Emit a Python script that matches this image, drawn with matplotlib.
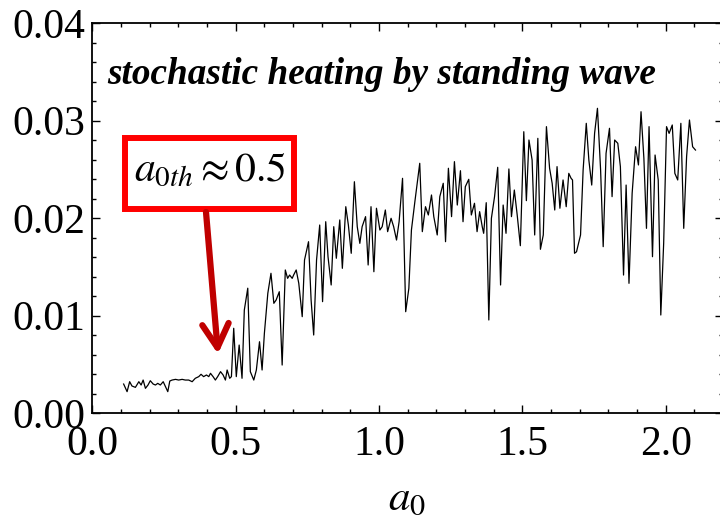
import matplotlib
matplotlib.use('Agg')
import matplotlib.pyplot as plt
from matplotlib.patches import Rectangle, FancyArrowPatch
from matplotlib.ticker import MultipleLocator, FormatStrFormatter

# ---- data ----
a0 = [0.109, 0.121, 0.130, 0.138, 0.150, 0.162, 0.170, 0.177, 0.185, 0.194,
      0.202, 0.212, 0.220, 0.228, 0.237, 0.247, 0.255, 0.263, 0.270, 0.278,
      0.290, 0.301, 0.313, 0.324, 0.336, 0.348, 0.359, 0.371, 0.379, 0.388,
      0.398, 0.406, 0.412, 0.421, 0.429, 0.437, 0.447, 0.456, 0.464, 0.470,
      0.479, 0.485, 0.493, 0.502, 0.512, 0.522,
      0.530, 0.542, 0.551, 0.563, 0.572, 0.583, 0.592, 0.600, 0.612, 0.623,
      0.633, 0.641, 0.652, 0.662, 0.673, 0.681, 0.688, 0.697, 0.702, 0.711,
      0.720, 0.732, 0.740, 0.754, 0.763, 0.772, 0.782, 0.793, 0.803, 0.814,
      0.822, 0.833, 0.842, 0.851, 0.863, 0.872, 0.884, 0.893, 0.903, 0.914,
      0.924, 0.933, 0.941, 0.953, 0.962, 0.972, 0.982, 0.991, 1.003, 1.011,
      1.022, 1.030, 1.042, 1.051, 1.061, 1.070, 1.082, 1.093, 1.104, 1.113,
      1.125, 1.142, 1.151, 1.162, 1.172, 1.183, 1.191, 1.203, 1.212, 1.224,
      1.232, 1.242, 1.253, 1.263, 1.273, 1.284,
      1.293, 1.301, 1.313, 1.322, 1.333, 1.342, 1.351, 1.360, 1.365, 1.374,
      1.383, 1.392, 1.403, 1.414, 1.424, 1.433, 1.443, 1.453, 1.462, 1.472,
      1.482, 1.493, 1.505, 1.514, 1.523, 1.534, 1.543, 1.554, 1.563, 1.573,
      1.584, 1.595, 1.604, 1.613, 1.621, 1.631,
      1.642, 1.653, 1.662, 1.670, 1.675, 1.682, 1.689, 1.703, 1.712, 1.723,
      1.732, 1.742, 1.752, 1.762, 1.773, 1.782, 1.792, 1.804, 1.813, 1.822,
      1.833, 1.842, 1.853, 1.862, 1.872,
      1.883, 1.895, 1.905, 1.914, 1.924, 1.933, 1.942, 1.954, 1.963, 1.974,
      1.983, 1.993, 2.003, 2.012, 2.023, 2.032, 2.042, 2.053, 2.063, 2.073,
      2.083, 2.094, 2.104]

heating = [0.00297, 0.00219, 0.00321, 0.00277, 0.00263, 0.00321, 0.00287, 0.00338, 0.00253, 0.00287,
           0.00331, 0.00297, 0.00287, 0.00304, 0.00287, 0.00321, 0.00270, 0.00219, 0.00328, 0.00338,
           0.00345, 0.00338, 0.00345, 0.00338, 0.00338, 0.00321, 0.00356, 0.00373, 0.00397, 0.00373,
           0.00390, 0.00373, 0.00407, 0.00373, 0.00338, 0.00373, 0.00424, 0.00390, 0.00338, 0.00441,
           0.00356, 0.00373, 0.00869, 0.00373, 0.00697, 0.00356,
           0.01056, 0.01280, 0.00424, 0.00338, 0.00441, 0.00731, 0.00441, 0.00817, 0.01228, 0.01433,
           0.01125, 0.01159, 0.01244, 0.00492, 0.01467, 0.01381, 0.01415, 0.01381, 0.01415, 0.01467,
           0.01330, 0.00988, 0.01569, 0.01757, 0.01159, 0.00800, 0.01569, 0.01928, 0.01142, 0.01962,
           0.01603, 0.01313, 0.01911, 0.01587, 0.01980, 0.01484, 0.02116, 0.01928, 0.01638, 0.02372,
           0.01911, 0.01740, 0.01911, 0.02014, 0.01518, 0.02116, 0.01449, 0.02100, 0.01877, 0.01911,
           0.02082, 0.01860, 0.01997, 0.01911, 0.01774, 0.01962, 0.02407, 0.01039, 0.01279, 0.01877,
           0.02167, 0.02561, 0.01860, 0.02116, 0.02031, 0.02236, 0.02014, 0.01826, 0.02219, 0.02356,
           0.01757, 0.02510, 0.02014, 0.02578, 0.02133, 0.02485,
           0.01962, 0.02321, 0.02397, 0.02031, 0.02151, 0.01860, 0.02065, 0.01911, 0.01843, 0.02157,
           0.00954, 0.01997, 0.02219, 0.02520, 0.01313, 0.02133, 0.01843, 0.02503, 0.02014, 0.02287,
           0.02031, 0.01716, 0.02885, 0.02178, 0.02800, 0.02595, 0.01826, 0.02817, 0.01679, 0.01826,
           0.02937, 0.02510, 0.02356, 0.02082, 0.02527, 0.02100,
           0.02390, 0.02116, 0.02458, 0.02407, 0.02390, 0.01638, 0.01654, 0.01826, 0.02492, 0.02971,
           0.02595, 0.02338, 0.02868, 0.03125, 0.02492, 0.01706, 0.02663, 0.02920, 0.02219, 0.02800,
           0.02766, 0.02527, 0.01415, 0.02338, 0.01330,
           0.02253, 0.02731, 0.02544, 0.03090, 0.02612, 0.01894, 0.02937, 0.01603, 0.02646, 0.02390,
           0.01005, 0.01740, 0.02937, 0.02868, 0.02954, 0.02458, 0.02390, 0.02971, 0.01894, 0.02630,
           0.03005, 0.02731, 0.02697]

panel_text = "stochastic heating by standing wave"
threshold_text = r"$a_{0th} \approx 0.5$"
xlabel_text = r"$a_0$"

# ---- figure ----
plt.rcParams['font.family'] = ['Liberation Serif', 'DejaVu Serif']
plt.rcParams['mathtext.fontset'] = 'stix'

W, H = 720, 520
fig = plt.figure(figsize=(W / 100, H / 100), dpi=100)
ax = fig.add_axes([92.4 / W, 107 / H, (723 - 92.4) / W, 390 / H])

ax.plot(a0, heating, color='black', lw=0.9)

ax.set_xlim(0, 2.2)
ax.set_ylim(0, 0.04)
ax.xaxis.set_major_locator(MultipleLocator(0.5))
ax.xaxis.set_minor_locator(MultipleLocator(0.1))
ax.yaxis.set_major_locator(MultipleLocator(0.01))
ax.yaxis.set_minor_locator(MultipleLocator(0.002))
ax.xaxis.set_major_formatter(FormatStrFormatter('%.1f'))
ax.yaxis.set_major_formatter(FormatStrFormatter('%.2f'))
ax.tick_params(which='both', direction='in', top=True, right=True, width=1.0)
ax.tick_params(which='major', length=5.5, labelsize=30)
ax.tick_params(axis='x', which='major', pad=9)
ax.tick_params(axis='y', which='major', pad=5)
ax.tick_params(which='minor', length=3.2)
for s in ax.spines.values():
    s.set_linewidth(1.3)

ax.set_xlabel(xlabel_text, fontsize=31, va='baseline')
ax.xaxis.set_label_coords((407 - 92.4) / 630.6, -(509 - 413) / 390)

fig.text(107 / W, 1 - 75 / H, panel_text, fontsize=26.8, fontweight='bold',
         style='italic', va='center', ha='left')

rect = Rectangle((125 / W, 1 - 208.5 / H), (294 - 125) / W, (208.5 - 137.5) / H,
                 transform=fig.transFigure, fill=False, ec='#ff0000', lw=4.3)
fig.patches.append(rect)
fig.text(210 / W, 1 - 171 / H, threshold_text, fontsize=30, ha='center', va='center')

arrow = FancyArrowPatch(posA=(206 / W, 1 - 212 / H), posB=(218 / W, 1 - 354 / H),
                        transform=fig.transFigure,
                        arrowstyle='->,head_length=17,head_width=9.5',
                        mutation_scale=1, color='#c00000', lw=4.5,
                        shrinkA=0, shrinkB=0)
fig.patches.append(arrow)

fig.savefig('out.png', dpi=100)
